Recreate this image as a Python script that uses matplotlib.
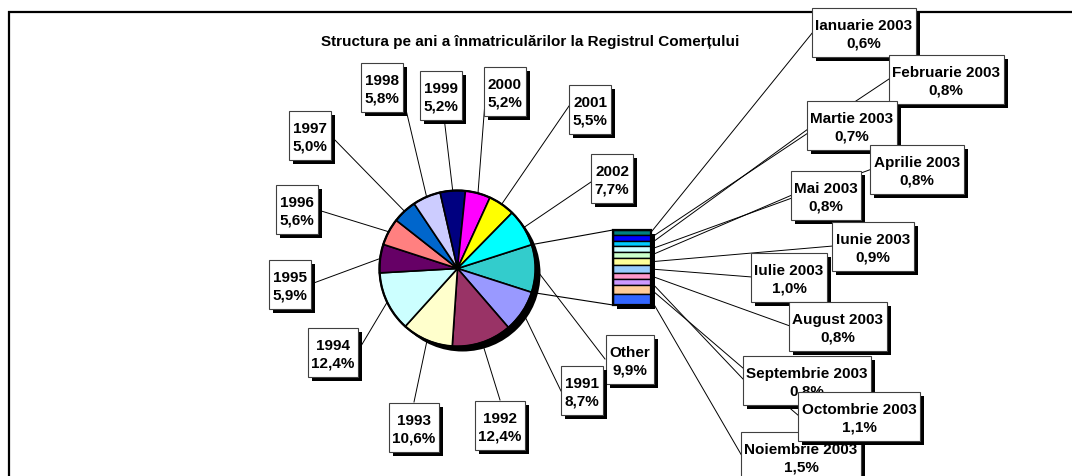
import matplotlib

matplotlib.use("Agg")

import matplotlib.pyplot as plt
import matplotlib.transforms as mtransforms
from matplotlib.patches import Circle, Rectangle
import numpy as np

W, H = 1072, 477
DPI = 100
FONT = ["Liberation Sans", "DejaVu Sans"]

TITLE = "Structura pe ani a înmatriculărilor la Registrul Comerțului"

# date
years = ["1991", "1992", "1993", "1994", "1995", "1996",
         "1997", "1998", "1999", "2000", "2001", "2002"]
year_shares = [8.7, 12.4, 10.6, 12.4, 5.9, 5.6, 5.0, 5.8, 5.2, 5.2, 5.5, 7.7]
other_label = "Other"
other_share = 9.9
months = ["Ianuarie 2003", "Februarie 2003", "Martie 2003", "Aprilie 2003",
          "Mai 2003", "Iunie 2003", "Iulie 2003", "August 2003",
          "Septembrie 2003", "Octombrie 2003", "Noiembrie 2003"]
month_shares = [0.6, 0.8, 0.7, 0.8, 0.8, 0.9, 1.0, 0.8, 0.8, 1.1, 1.5]

# culori (paleta implicita Excel)
other_color = "#33CCCC"
year_colors = ["#9999FF", "#993366", "#FFFFCC", "#CCFFFF", "#660066", "#FF8080",
               "#0066CC", "#CCCCFF", "#000080", "#FF00FF", "#FFFF00", "#00FFFF"]
month_colors = ["#008080", "#0000FF", "#00CCFF", "#CCFFFF", "#CCFFCC", "#FFFF99",
                "#99CCFF", "#FF99CC", "#CC99FF", "#FFCC99", "#3366FF"]

# asezare in pixeli (y in jos)
PIE_C = (457.5, 269.5)
PIE_R = 78
BAR_BOX = (613, 231, 651, 306)  # stanga, sus, dreapta, jos
BOX_H = 49

other_box = (630, 360)
other_anchor = (605, 360)
year_boxes = [(582, 391), (500, 426), (414, 428), (333, 353), (290, 285), (297, 210),
              (310, 136), (382, 88), (441, 96), (505, 92), (590, 110), (612, 179)]
year_anchors = [(561, 392), (500, 401), (414, 403), (358, 352), (311, 285), (318, 211),
                (331, 137), (403, 98), (444, 118), (486, 90), (569, 107), (591, 183)]
month_boxes = [(864, 33), (946, 80), (852, 126), (917, 170), (826, 196), (873, 247),
               (789, 278), (838, 327), (807, 381), (859, 417), (801, 457)]
month_anchors = [(813, 33), (889, 80), (808, 130), (872, 170), (792, 196), (833, 247),
                 (752, 278), (790, 327), (743, 380), (799, 417), (742, 457)]
month_order = [0, 1, 2, 3, 4, 5, 6, 7, 8, 10, 9]


def pct(v):
    return f"{v:.1f}".replace(".", ",") + "%"


def frac_rect(x0, y0, x1, y1):
    return [x0 / W, (H - y1) / H, (x1 - x0) / W, (y1 - y0) / H]


fig = plt.figure(figsize=(W / DPI, H / DPI), dpi=DPI, facecolor="white")

back = fig.add_axes([0, 0, 1, 1], zorder=0)
back.set_xlim(0, W)
back.set_ylim(H, 0)
back.axis("off")

# pie
span = 90
pax = fig.add_axes(frac_rect(PIE_C[0] - span, PIE_C[1] - span,
                             PIE_C[0] + span, PIE_C[1] + span), zorder=1)
pie_vals = [other_share] + year_shares
pie_cols = [other_color] + year_colors
start = 180 * other_share / sum(pie_vals)
wedges, _ = pax.pie(pie_vals, colors=pie_cols, startangle=start, counterclock=False,
                    radius=1, wedgeprops=dict(edgecolor="black", linewidth=1.2))
lim = span / PIE_R
pax.set_xlim(-lim, lim)
pax.set_ylim(-lim, lim)
pax.set_aspect("equal")
pax.axis("off")
shadow_tr = mtransforms.offset_copy(pax.transData, fig=fig, x=5, y=-5, units="dots")
pax.add_patch(Circle((0, 0), 1, transform=shadow_tr, fc="black", zorder=0))
pax.add_patch(Circle((0, 0), 1, fill=False, ec="black", lw=1.6, zorder=3))

# bara
bax = fig.add_axes(frac_rect(*BAR_BOX), zorder=1)
total = sum(month_shares)
bottoms = np.concatenate([[0], np.cumsum(month_shares)[:-1]])
bax.bar([0] * len(month_shares), month_shares, bottom=bottoms, width=1,
        color=month_colors, edgecolor="black", linewidth=1)
bax.set_xlim(-0.5, 0.5)
bax.set_ylim(total, 0)
bax.axis("off")
bshadow = mtransforms.offset_copy(bax.transData, fig=fig, x=4, y=-4, units="dots")
bax.add_patch(Rectangle((-0.5, 0), 1, total, transform=bshadow, fc="black",
                        zorder=0, clip_on=False))
bax.add_patch(Rectangle((-0.5, 0), 1, total, fill=False, ec="black", lw=1.6,
                        zorder=3, clip_on=False))


def to_back(ax, xy):
    return back.transData.inverted().transform(ax.transData.transform(xy))


def pie_point(theta):
    t = np.deg2rad(theta)
    return to_back(pax, (np.cos(t), np.sin(t)))


# linii de legatura pie -> bara
w0 = wedges[0]
for theta, yb in ((w0.theta2, 0), (w0.theta1, total)):
    p = pie_point(theta)
    q = to_back(bax, (-0.5, yb))
    back.plot([p[0], q[0]], [p[1], q[1]], color="black", lw=0.8)

# linii de indicatie
for w, a in zip(wedges, [other_anchor] + year_anchors):
    p = pie_point((w.theta1 + w.theta2) / 2)
    back.plot([a[0], p[0]], [a[1], p[1]], color="black", lw=0.7)
for b, h, a in zip(bottoms, month_shares, month_anchors):
    p = to_back(bax, (0.5, b + h / 2))
    back.plot([a[0], p[0]], [a[1], p[1]], color="black", lw=0.7)

# rama
back.plot([8, W], [12.5, 12.5], color="black", lw=1.6, solid_capstyle="butt")
back.plot([8.5, 8.5], [12, H], color="black", lw=1.6, solid_capstyle="butt")

front = fig.add_axes([0, 0, 1, 1], zorder=2)
front.set_xlim(0, W)
front.set_ylim(H, 0)
front.axis("off")
front.patch.set_visible(False)

front.text(530, 42, TITLE, ha="center", va="center", fontsize=11,
           fontweight="bold", family=FONT)

renderer = fig.canvas.get_renderer()


def label(cx, cy, text, z):
    t = front.text(cx, cy + 2, text, ha="center", va="center", ma="center",
                   fontsize=11, fontweight="bold", family=FONT, linespacing=1.3,
                   zorder=z + 2)
    bb = t.get_window_extent(renderer=renderer)
    w = bb.width + 7
    x0 = cx - w / 2
    y0 = cy - BOX_H / 2
    front.add_patch(Rectangle((x0 + 4, y0 + 4), w, BOX_H, fc="black", ec="none",
                              zorder=z))
    front.add_patch(Rectangle((x0, y0), w, BOX_H, fc="white", ec="0.25", lw=0.8,
                              zorder=z + 1))


z = 10
for name, v, c in zip([other_label] + years, [other_share] + year_shares,
                      [other_box] + year_boxes):
    label(c[0], c[1], f"{name}\n{pct(v)}", z)
    z += 3
for i in month_order:
    c = month_boxes[i]
    label(c[0], c[1], f"{months[i]}\n{pct(month_shares[i])}", z)
    z += 3

fig.savefig("out.png", dpi=DPI, facecolor="white")
